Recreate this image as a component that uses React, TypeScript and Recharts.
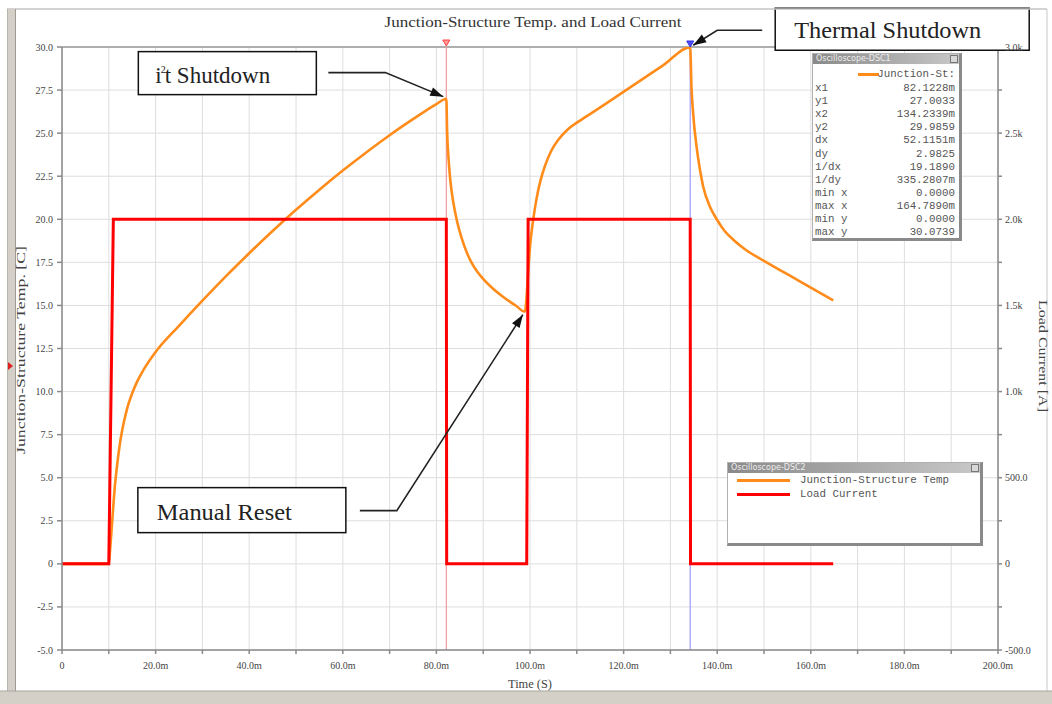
import React from 'react';
import { LineChart, Line, XAxis, YAxis, CartesianGrid, ReferenceLine, ReferenceDot } from 'recharts';

// ---- data (time in ms) ----
const tempTime = [0, 10.0, 10.3, 10.6, 11.0, 11.4, 11.9, 12.5, 13.2, 14.0, 15.0, 16.0, 17.5, 20, 25, 30, 35, 40, 45, 50, 55, 60, 65, 70, 75, 80, 82.12,
  82.3, 82.6, 83.0, 83.6, 84.4, 85.4, 86.6, 88.0, 89.8, 92.0, 94.5, 97.0, 98.9,
  99.3, 99.6, 100.0, 100.7, 101.4, 102.2, 103.2, 104.5, 106.0, 108.0, 110.5, 114.2, 121.4, 128.5, 134.23,
  134.5, 134.9, 135.6, 136.3, 137.0, 138.5, 139.9, 141.5, 143.5, 146.0, 149.9, 157.0, 164.79];
const tempValue = [0, 0, 0.9, 2.0, 3.5, 4.8, 6.0, 7.2, 8.2, 9.1, 9.9, 10.55, 11.3, 12.3, 13.82, 15.28, 16.69, 18.03, 19.32, 20.55, 21.72, 22.83, 23.88, 24.88, 25.81, 26.69, 27.0,
  25.0, 23.5, 22.2, 21.0, 19.9, 18.9, 18.0, 17.25, 16.6, 16.0, 15.45, 14.98, 14.64,
  15.6, 16.9, 18.4, 20.0, 21.2, 22.2, 23.1, 23.95, 24.6, 25.2, 25.7, 26.35, 27.66, 28.95, 29.99,
  27.7, 26.0, 24.2, 22.9, 21.9, 20.7, 20.0, 19.35, 18.8, 18.25, 17.6, 16.5, 15.3];

const currentTime = [0, 10.0, 10.97, 82.12, 82.2, 99.3, 99.6, 134.23, 134.3, 164.79];
const currentValue = [0, 0, 2000, 2000, 0, 0, 2000, 2000, 0, 0];

const xTicks = [0, 10, 20, 30, 40, 50, 60, 70, 80, 90, 100, 110, 120, 130, 140, 150, 160, 170, 180, 190, 200];
const xTickLabels = ['0', '', '20.0m', '', '40.0m', '', '60.0m', '', '80.0m', '', '100.0m', '', '120.0m', '', '140.0m', '', '160.0m', '', '180.0m', '', '200.0m'];
const tempTicks = [-5, -2.5, 0, 2.5, 5, 7.5, 10, 12.5, 15, 17.5, 20, 22.5, 25, 27.5, 30];
const tempTickLabels = ['-5.0', '-2.5', '0', '2.5', '5.0', '7.5', '10.0', '12.5', '15.0', '17.5', '20.0', '22.5', '25.0', '27.5', '30.0'];
const currentTicks = [-500, -250, 0, 250, 500, 750, 1000, 1250, 1500, 1750, 2000, 2250, 2500, 2750, 3000];
const currentTickLabels = ['-500.0', '', '0', '', '500.0', '', '1.0k', '', '1.5k', '', '2.0k', '', '2.5k', '', '3.0k'];

const cursorTimes = [82.1228, 134.2339];
const cursorTemps = [27.0033, 29.9859];
const resetTime = 98.9;
const resetTemp = 14.64;

const readoutLabels = ['x1', 'y1', 'x2', 'y2', 'dx', 'dy', '1/dx', '1/dy', 'min x', 'max x', 'min y', 'max y'];
const readoutValues = ['82.1228m', '27.0033', '134.2339m', '29.9859', '52.1151m', '2.9825', '19.1890', '335.2807m', '0.0000', '164.7890m', '0.0000', '30.0739'];

const W = 1052;
const H = 704;
const SERIF = '"Liberation Serif", "Times New Roman", serif';
const MONO = '"Liberation Mono", "Courier New", monospace';
const ORANGE = '#ff8c1a';
const RED = '#ff0000';

function ArrowPath({ pts }: { pts: number[][] }) {
  const n = pts.length;
  const [x1, y1] = pts[n - 2];
  const [x2, y2] = pts[n - 1];
  const ang = Math.atan2(y2 - y1, x2 - x1);
  const L = 13, Wd = 4.5;
  const bx = x2 - L * Math.cos(ang), by = y2 - L * Math.sin(ang);
  const px = -Math.sin(ang) * Wd, py = Math.cos(ang) * Wd;
  const d = pts.map((p, i) => (i === 0 ? 'M' : 'L') + p[0] + ' ' + p[1]).join(' ');
  return (
    <g>
      <path d={d} fill="none" stroke="#222" strokeWidth={1.6} />
      <path d={`M${x2} ${y2} L${bx + px} ${by + py} L${bx - px} ${by - py} Z`} fill="#111" />
    </g>
  );
}

function I2tNote({ cx, cy }: any) {
  return (
    <g>
      <rect x={cx - 308} y={cy - 47} width={178} height={43} fill="#fff" stroke="#111" strokeWidth={1.5} />
      <text x={cx - 291} y={cy - 16} fontFamily={SERIF} fontSize={23} fill="#222">
        <tspan>i</tspan>
        <tspan dy={-10} dx={-1} fontSize={10}>2</tspan>
        <tspan dy={10} dx={-1}>t Shutdown</tspan>
      </text>
      <ArrowPath pts={[[cx - 118, cy - 26], [cx - 61, cy - 26], [cx - 3, cy - 2]]} />
    </g>
  );
}

function ThermalNote({ cx, cy }: any) {
  return (
    <g>
      <rect x={cx + 85} y={cy - 39} width={254} height={42} fill="#fff" stroke="#111" strokeWidth={1.5} />
      <text x={cx + 104} y={cy - 9} fontFamily={SERIF} fontSize={23} fill="#222" textLength={187} lengthAdjust="spacingAndGlyphs">Thermal Shutdown</text>
      <ArrowPath pts={[[cx + 72, cy - 17], [cx + 27, cy - 17], [cx + 3, cy - 2]]} />
    </g>
  );
}

function ResetNote({ cx, cy }: any) {
  return (
    <g>
      <rect x={cx - 387} y={cy + 176} width={208} height={45} fill="#fff" stroke="#111" strokeWidth={1.5} />
      <text x={cx - 368} y={cy + 208} fontFamily={SERIF} fontSize={23} fill="#222" textLength={135} lengthAdjust="spacingAndGlyphs">Manual Reset</text>
      <ArrowPath pts={[[cx - 165, cy + 199], [cx - 128, cy + 199], [cx - 2, cy + 3]]} />
    </g>
  );
}

function RedMarker({ cx, cy }: any) {
  return <path d={`M${cx - 3.5} ${cy - 7} L${cx + 3.5} ${cy - 7} L${cx} ${cy - 1} Z`} fill="#ff9a9a" stroke="#ff4040" strokeWidth={1} />;
}
function BlueMarker({ cx, cy }: any) {
  return <path d={`M${cx - 3.5} ${cy - 6} L${cx + 3.5} ${cy - 6} L${cx} ${cy} Z`} fill="#5050ff" stroke="#3030e0" strokeWidth={1} />;
}

function Panel({ left, top, width, height, title, children }: any) {
  return (
    <div style={{
      position: 'absolute', left, top, width, height, boxSizing: 'border-box', background: '#fff',
      borderTop: '1px solid #b0b0b0', borderLeft: '1px solid #b0b0b0', borderRight: '3px solid #8a8a8a', borderBottom: '3px solid #8a8a8a',
      fontFamily: MONO, color: '#555', overflow: 'hidden'
    }}>
      <div style={{ height: 10, background: 'linear-gradient(to right,#8a8a8a,#c8c8c8)', position: 'relative', fontSize: 8, color: '#eeeeee', lineHeight: '10px', paddingLeft: 3, whiteSpace: 'nowrap', fontFamily: '"DejaVu Sans", sans-serif' }}>
        {title}
        <div style={{ position: 'absolute', right: 1, top: 1, width: 8, height: 8, background: '#d8d8d8', border: '1px solid #777', boxSizing: 'border-box' }} />
      </div>
      {children}
    </div>
  );
}

export default function App() {
  const tempData = tempTime.map((t, i) => ({ t, v: tempValue[i] }));
  const currentData = currentTime.map((t, i) => ({ t, v: currentValue[i] }));
  const tickStyle = { fill: '#444', fontSize: 10, fontFamily: SERIF };

  return (
    <div style={{ position: 'absolute', left: 0, top: 0, width: W, height: H, background: '#fff', overflow: 'hidden' }}>
      <LineChart width={W} height={H} margin={{ top: 47, right: 4, bottom: 14, left: 12 }}>
        <CartesianGrid stroke="#dedede" strokeWidth={1} yAxisId="temp" />
        <XAxis type="number" dataKey="t" domain={[0, 200]} ticks={xTicks} interval={0}
          tickFormatter={(v: number) => xTickLabels[xTicks.indexOf(v)] ?? ''}
          stroke="#8a8a8a" strokeWidth={1.5} tickSize={4} tickMargin={8} tick={tickStyle} height={40} allowDataOverflow />
        <YAxis yAxisId="temp" orientation="left" domain={[-5, 30]} ticks={tempTicks} interval={0}
          tickFormatter={(v: number) => tempTickLabels[tempTicks.indexOf(v)] ?? ''}
          stroke="#8a8a8a" strokeWidth={1.5} tickSize={5} tickMargin={4} tick={tickStyle} width={50} allowDataOverflow />
        <YAxis yAxisId="cur" orientation="right" domain={[-500, 3000]} ticks={currentTicks} interval={0}
          tickFormatter={(v: number) => currentTickLabels[currentTicks.indexOf(v)] ?? ''}
          stroke="#8a8a8a" strokeWidth={1.5} tickSize={4} tickMargin={3} tick={tickStyle} width={50} allowDataOverflow />
        <ReferenceLine yAxisId="temp" y={30} stroke="#9a9a9a" strokeWidth={1.5} />
        <ReferenceLine yAxisId="temp" x={cursorTimes[0]} stroke="#f29a9a" strokeWidth={1.2} />
        <ReferenceLine yAxisId="temp" x={cursorTimes[1]} stroke="#9a9aff" strokeWidth={1.2} />
        <Line type="monotone" data={tempData} dataKey="v" yAxisId="temp" stroke={ORANGE} strokeWidth={2.6} dot={false} isAnimationActive={false} />
        <Line type="linear" data={currentData} dataKey="v" yAxisId="cur" stroke={RED} strokeWidth={3} dot={false} isAnimationActive={false} />
        <ReferenceDot yAxisId="temp" x={cursorTimes[0]} y={30} r={0} ifOverflow="visible" shape={(p: any) => <RedMarker cx={p.cx} cy={p.cy} />} />
        <ReferenceDot yAxisId="temp" x={cursorTimes[1]} y={30} r={0} ifOverflow="visible" shape={(p: any) => <BlueMarker cx={p.cx} cy={p.cy} />} />
        <ReferenceDot yAxisId="temp" x={cursorTimes[0]} y={cursorTemps[0]} r={0} ifOverflow="visible" shape={(p: any) => <I2tNote cx={p.cx} cy={p.cy} />} />
        <ReferenceDot yAxisId="temp" x={cursorTimes[1]} y={cursorTemps[1]} r={0} ifOverflow="visible" shape={(p: any) => <ThermalNote cx={p.cx} cy={p.cy} />} />
        <ReferenceDot yAxisId="temp" x={resetTime} y={resetTemp} r={0} ifOverflow="visible" shape={(p: any) => <ResetNote cx={p.cx} cy={p.cy} />} />
      </LineChart>

      <svg width={W} height={H} style={{ position: 'absolute', left: 0, top: 0, pointerEvents: 'none' }}>
        {/* window frame */}
        <line x1={7} y1={9} x2={1047} y2={9} stroke="#c4c4c4" strokeWidth={1.5} />
        <rect x={7} y={9} width={8} height={684} fill="#d4d0c8" />
        <line x1={15.5} y1={9} x2={15.5} y2={692} stroke="#9c9a94" strokeWidth={1} />
        <line x1={7.5} y1={9} x2={7.5} y2={692} stroke="#b8b5ae" strokeWidth={1} />
        <line x1={1047} y1={9} x2={1047} y2={692} stroke="#c8c8c8" strokeWidth={1} />
        <rect x={0} y={691} width={W} height={13} fill="#d4d0c8" />
        <line x1={0} y1={691} x2={W} y2={691} stroke="#a8a6a0" strokeWidth={1} />
        <path d="M8 362 L13 366 L8 370 Z" fill="#e02020" />
        {/* titles */}
        <text x={533} y={27} textAnchor="middle" fontFamily={SERIF} fontSize={15} fill="#333" textLength={297} lengthAdjust="spacingAndGlyphs">Junction-Structure Temp. and Load Current</text>
        <text x={0} y={0} transform="translate(25 350) rotate(-90)" textAnchor="middle" fontFamily={SERIF} fontSize={11.5} fill="#444" textLength={208} lengthAdjust="spacingAndGlyphs">Junction-Structure Temp. [C]</text>
        <text x={0} y={0} transform="translate(1039 356) rotate(90)" textAnchor="middle" fontFamily={SERIF} fontSize={11.5} fill="#444" textLength={112} lengthAdjust="spacingAndGlyphs">Load Current [A]</text>
        <text x={530} y={688} textAnchor="middle" fontFamily={SERIF} fontSize={12} fill="#444" textLength={44} lengthAdjust="spacingAndGlyphs">Time (S)</text>
      </svg>

      <Panel left={812} top={53} width={150} height={188} title="Oscilloscope-DSC1">
        <div style={{ position: 'absolute', left: 45, top: 19, width: 21, height: 3, background: ORANGE }} />
        <div style={{ position: 'absolute', right: 4, top: 14, fontSize: 10.8, lineHeight: '12px', whiteSpace: 'nowrap' }}>Junction-St:</div>
        {readoutLabels.map((lab, i) => (
          <React.Fragment key={lab}>
            <div style={{ position: 'absolute', left: 2, top: 28 + i * 13.1, fontSize: 10.8, lineHeight: '12px', whiteSpace: 'nowrap' }}>{lab}</div>
            <div style={{ position: 'absolute', right: 4, top: 28 + i * 13.1, fontSize: 10.8, lineHeight: '12px', whiteSpace: 'nowrap' }}>{readoutValues[i]}</div>
          </React.Fragment>
        ))}
      </Panel>

      <Panel left={727} top={462} width={256} height={84} title="Oscilloscope-DSC2">
        <div style={{ position: 'absolute', left: 9, top: 16, width: 53, height: 3, background: ORANGE }} />
        <div style={{ position: 'absolute', left: 72, top: 11, fontSize: 10.8, lineHeight: '12px', whiteSpace: 'nowrap' }}>Junction-Structure Temp</div>
        <div style={{ position: 'absolute', left: 9, top: 30, width: 53, height: 3, background: RED }} />
        <div style={{ position: 'absolute', left: 72, top: 25, fontSize: 10.8, lineHeight: '12px', whiteSpace: 'nowrap' }}>Load Current</div>
      </Panel>
    </div>
  );
}
